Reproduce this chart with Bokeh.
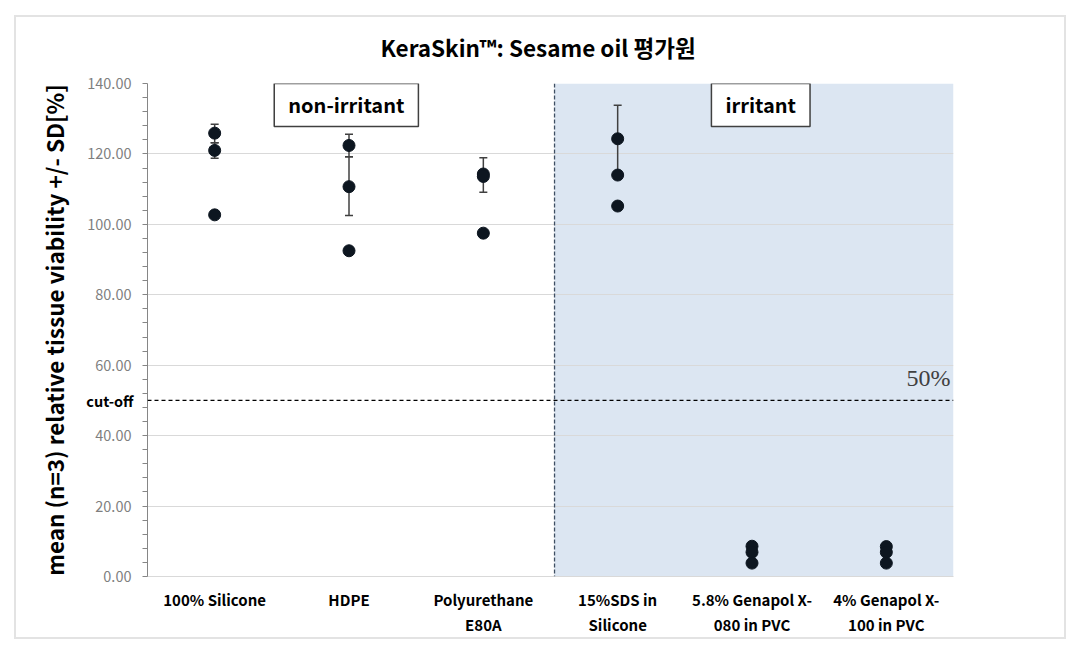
from bokeh.plotting import figure
from bokeh.models import (FactorRange, Range1d, SingleIntervalTicker, NumeralTickFormatter,
                          ColumnDataSource, Whisker, TeeHead, Span, BoxAnnotation, Label,
                          LinearAxis, FixedTicker)
from bokeh.embed import file_html
from bokeh.resources import INLINE

# ---------------- data ----------------
categories = ["100% Silicone", "HDPE", "Polyurethane\nE80A", "15%SDS in\nSilicone",
              "5.8% Genapol X-\n080 in PVC", "4% Genapol X-\n100 in PVC"]
rep1 = [125.9, 122.4, 114.3, 124.3, 8.6, 8.5]
rep2 = [121.0, 110.7, 113.6, 114.0, 6.9, 6.9]
rep3 = [102.7, 92.5, 97.5, 105.2, 3.8, 3.8]
err_cat = [categories[0], categories[0], categories[1], categories[1], categories[2], categories[3]]
err_lower = [123.2, 118.8, 119.2, 102.5, 109.1, 114.2]
err_upper = [128.4, 123.2, 125.6, 119.2, 118.9, 133.8]
cutoff = 50
y_max = 140
title = "KeraSkin\u2122: Sesame oil 평가원"
y_label = "mean (n=3) relative tissue viability +/- SD[%]"

FONT = "Noto Sans CJK KR"

p = figure(width=1068, height=640, x_range=FactorRange(*categories), y_range=Range1d(0, y_max),
           output_backend="svg", toolbar_location=None,
           min_border_left=141, min_border_right=121, min_border_top=76, min_border_bottom=71)
p.margin = (7, 0, 0, 6)
p.border_fill_color = None
p.styles = {"box-shadow": "inset 0 0 0 8px #ffffff, inset 0 0 0 10px #e3e3e3"}

p.title.text = title
p.title.align = "left"
p.title.offset = 233
p.title.text_font = FONT
p.title.text_font_size = "22.5px"
p.title.text_font_style = "bold"
p.title.text_color = "#000000"
p.title.standoff = 42

p.outline_line_color = None
p.background_fill_color = "white"

# shaded irritant region
p.add_layout(BoxAnnotation(left=3.03, bottom=0, top=y_max, fill_color="#dce6f2", fill_alpha=1,
                           line_color=None, level="image"))

# ---- y axes: inner axis carries line, ticks and the "cut-off" label; outer carries numbers
main_axis = p.yaxis[0]
main_ticker = SingleIntervalTicker(interval=20, num_minor_ticks=5)
main_axis.ticker = main_ticker
main_axis.formatter = NumeralTickFormatter(format="0.00")
main_axis.axis_label = y_label
main_axis.axis_label_text_font = FONT
main_axis.axis_label_text_font_size = "22.5px"
main_axis.axis_label_text_font_style = "bold"
main_axis.axis_label_text_color = "#000000"
main_axis.axis_label_standoff = 14
main_axis.major_label_text_font = FONT
main_axis.major_label_text_font_size = "14.5px"
main_axis.major_label_text_color = "#7f7f7f"
main_axis.major_label_standoff = -48
main_axis.axis_line_color = None
main_axis.major_tick_line_color = None
main_axis.minor_tick_line_color = None
main_axis.major_tick_out = 0
main_axis.major_tick_in = 0
main_axis.minor_tick_out = 0
main_axis.minor_tick_in = 0

cut_axis = LinearAxis(ticker=FixedTicker(ticks=[cutoff], minor_ticks=list(range(0, y_max + 1, 4))),
                      major_label_overrides={cutoff: "cut-off"},
                      axis_line_color="#868686", major_tick_line_color=None,
                      minor_tick_line_color="#868686", minor_tick_out=5, minor_tick_in=0,
                      major_tick_out=5, major_tick_in=0, major_label_standoff=9,
                      major_label_text_font=FONT, major_label_text_font_size="14.5px",
                      major_label_text_font_style="bold", major_label_text_color="#000000")
p.left = [cut_axis, main_axis]

# grid
p.xgrid.grid_line_color = None
p.ygrid.ticker = main_ticker
p.ygrid.grid_line_color = "#d9d9d9"
p.ygrid.grid_line_width = 1

# x axis
p.xaxis.axis_line_color = "#d9d9d9"
p.xaxis.major_tick_line_color = None
p.xaxis.minor_tick_line_color = None
p.xaxis.major_tick_out = 0
p.xaxis.major_label_text_font = FONT
p.xaxis.major_label_text_font_size = "15px"
p.xaxis.major_label_text_font_style = "bold"
p.xaxis.major_label_text_color = "#000000"
p.xaxis.major_label_standoff = 12

# reference lines
p.add_layout(Span(location=cutoff, dimension="width", line_color="#000000",
                  line_dash="4 3", line_width=1.2))
p.add_layout(Span(location=3.03, dimension="height", line_color="#3f4f63",
                  line_dash="4 2", line_width=1.3))

# error bars
esrc = ColumnDataSource(dict(base=err_cat, lower=err_lower, upper=err_upper))
p.add_layout(Whisker(source=esrc, base="base", lower="lower", upper="upper",
                     line_color="#404040", line_width=1.5,
                     upper_head=TeeHead(size=8, line_color="#404040", line_width=1.5),
                     lower_head=TeeHead(size=8, line_color="#404040", line_width=1.5)))

# points
for vals in (rep1, rep2, rep3):
    p.scatter(x=categories, y=vals, size=12, fill_color="#0d1620", line_color="#0d1620")

# text annotations
p.add_layout(Label(x=1.48, y=133.9, text="non-irritant", text_align="center", text_baseline="middle",
                   text_font=FONT, text_font_size="20px", text_font_style="bold",
                   text_color="#000000", background_fill_color="white",
                   border_line_color="#404040", border_line_width=1.5, padding=(14, 7)))
p.add_layout(Label(x=4.565, y=133.9, text="irritant", text_align="center", text_baseline="middle",
                   text_font=FONT, text_font_size="20px", text_font_style="bold",
                   text_color="#000000", background_fill_color="white",
                   border_line_color="#404040", border_line_width=1.5, padding=(14, 7)))
p.add_layout(Label(x=6, y=56.5, x_offset=-3, text="50%", text_align="right", text_baseline="middle",
                   text_font="Liberation Serif", text_font_size="24px", text_color="#404040"))

open("out.html", "w").write(file_html(p, INLINE))
